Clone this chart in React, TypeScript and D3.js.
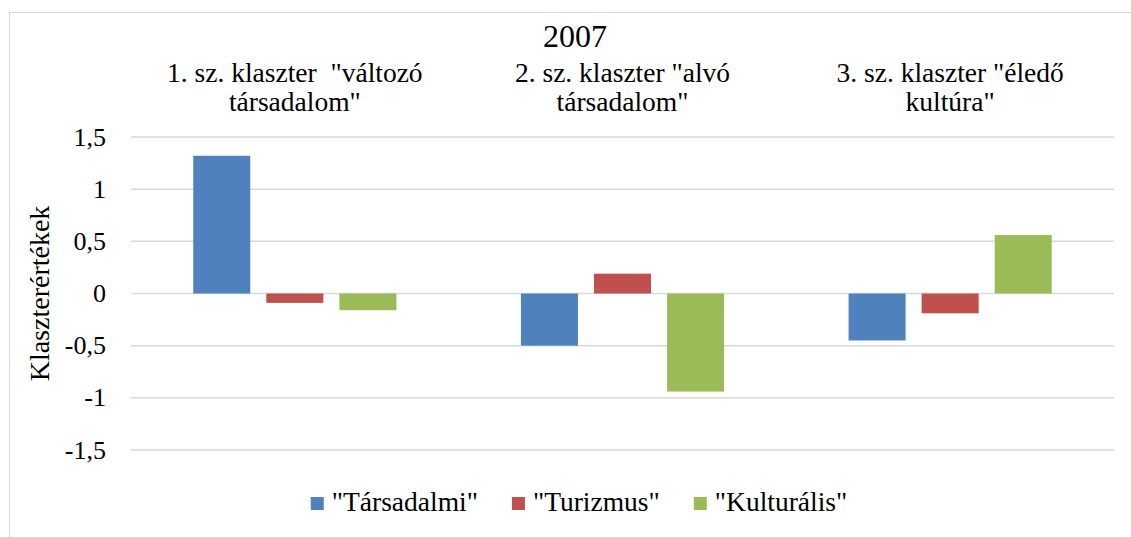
import React, { useEffect, useRef } from 'react';
import * as d3 from 'd3';

// cluster categories (the label wraps at its last space)
const categories = [
  '1. sz. klaszter  "változó társadalom"',
  '2. sz. klaszter "alvó társadalom"',
  '3. sz. klaszter "éledő kultúra"',
];
const seriesNames = ['"Társadalmi"', '"Turizmus"', '"Kulturális"'];
const tarsadalmi = [1.32, -0.5, -0.45];
const turizmus = [-0.09, 0.19, -0.19];
const kulturalis = [-0.16, -0.94, 0.56];
const yTicks = [-1.5, -1, -0.5, 0, 0.5, 1, 1.5];
const chartTitle = '2007';
const yTitle = 'Klaszterértékek';

const colors = ['#4F81BD', '#C0504D', '#9BBB59'];
const FONT = 'Liberation Serif, Times New Roman, serif';

const App = () => {
  const ref = useRef<SVGSVGElement>(null);

  useEffect(() => {
    const width = 1131;
    const height = 537;
    const left = 131;
    const right = 1114;
    const top = 137;
    const bottom = 450;
    const centerX = 575;

    const svg = d3.select(ref.current);
    svg.selectAll('*').remove();
    svg.attr('width', width).attr('height', height)
      .style('font-family', FONT);

    const locale = d3.formatLocale({
      decimal: ',',
      thousands: ' ',
      grouping: [3],
      currency: ['', ''],
      minus: '-',
    });
    const fmt = locale.format('~g');

    const series = [tarsadalmi, turizmus, kulturalis];
    const rows = categories.map((c, i) => ({
      cat: c,
      values: seriesNames.map((s, j) => ({ key: s, value: series[j][i], color: colors[j] })),
    }));

    const x0 = d3.scaleBand().domain(categories).range([left, right])
      .paddingInner(0.38).paddingOuter(0.19);
    const x1 = d3.scaleBand().domain(seriesNames).range([0, x0.bandwidth()])
      .paddingInner(0.22);
    const y = d3.scaleLinear().domain([-1.5, 1.5]).range([bottom, top]);

    // chart frame
    svg.append('rect')
      .attr('x', 9.5).attr('y', 12.5)
      .attr('width', 1200).attr('height', 600)
      .attr('fill', '#fff').attr('stroke', '#d9d9d9');

    // gridlines
    svg.append('g').selectAll('line')
      .data(yTicks)
      .enter().append('line')
      .attr('x1', left).attr('x2', right)
      .attr('y1', d => y(d)).attr('y2', d => y(d))
      .attr('stroke', '#d9d9d9').attr('stroke-width', 1.5);

    // tick labels
    svg.append('g').selectAll('text')
      .data(yTicks)
      .enter().append('text')
      .attr('x', 106).attr('y', d => y(d))
      .attr('dy', '0.33em')
      .attr('text-anchor', 'end')
      .attr('font-size', 26)
      .text(d => fmt(d));

    // bars
    const groups = svg.append('g').selectAll('g')
      .data(rows)
      .enter().append('g')
      .attr('transform', d => `translate(${x0(d.cat)},0)`);
    groups.selectAll('rect')
      .data(d => d.values)
      .enter().append('rect')
      .attr('x', d => x1(d.key))
      .attr('width', x1.bandwidth())
      .attr('y', d => y(Math.max(0, d.value)))
      .attr('height', d => Math.abs(y(d.value) - y(0)))
      .attr('fill', d => d.color);

    // category labels above the plot
    const catLabels = svg.append('g').selectAll('text')
      .data(categories)
      .enter().append('text')
      .attr('text-anchor', 'middle')
      .attr('font-size', 27.5)
      .style('white-space', 'pre');
    catLabels.each(function (d) {
      const cut = d.lastIndexOf(' ');
      const lines = [d.slice(0, cut), d.slice(cut + 1)];
      const cx = (x0(d) ?? 0) + x0.bandwidth() / 2;
      d3.select(this).selectAll('tspan')
        .data(lines)
        .enter().append('tspan')
        .attr('x', cx)
        .attr('y', (_, i) => 82 + i * 28.5)
        .text(l => l);
    });

    // title
    svg.append('text')
      .attr('x', centerX).attr('y', 47)
      .attr('text-anchor', 'middle')
      .attr('font-size', 32)
      .text(chartTitle);

    // y axis title
    svg.append('text')
      .attr('transform', `translate(49,${(top + bottom) / 2}) rotate(-90)`)
      .attr('text-anchor', 'middle')
      .attr('font-size', 28)
      .text(yTitle);

    // legend
    const legend = svg.append('g');
    const items = legend.selectAll('g')
      .data(seriesNames)
      .enter().append('g');
    items.append('rect')
      .attr('y', 497).attr('width', 13).attr('height', 13)
      .attr('fill', (_, i) => colors[i]);
    items.append('text')
      .attr('x', 21).attr('y', 510.5)
      .attr('font-size', 27.5)
      .text(d => d);
    let offset = 0;
    items.each(function () {
      const g = d3.select(this);
      g.attr('transform', `translate(${offset},0)`);
      const tw = (g.select('text').node() as SVGTextElement).getComputedTextLength();
      offset += 21 + tw + 34;
    });
    const total = offset - 34;
    legend.attr('transform', `translate(${579 - total / 2},0)`);
  }, []);

  return (
    <svg ref={ref} style={{ position: 'absolute', left: 0, top: 0, display: 'block' }} />
  );
};

export default App;
